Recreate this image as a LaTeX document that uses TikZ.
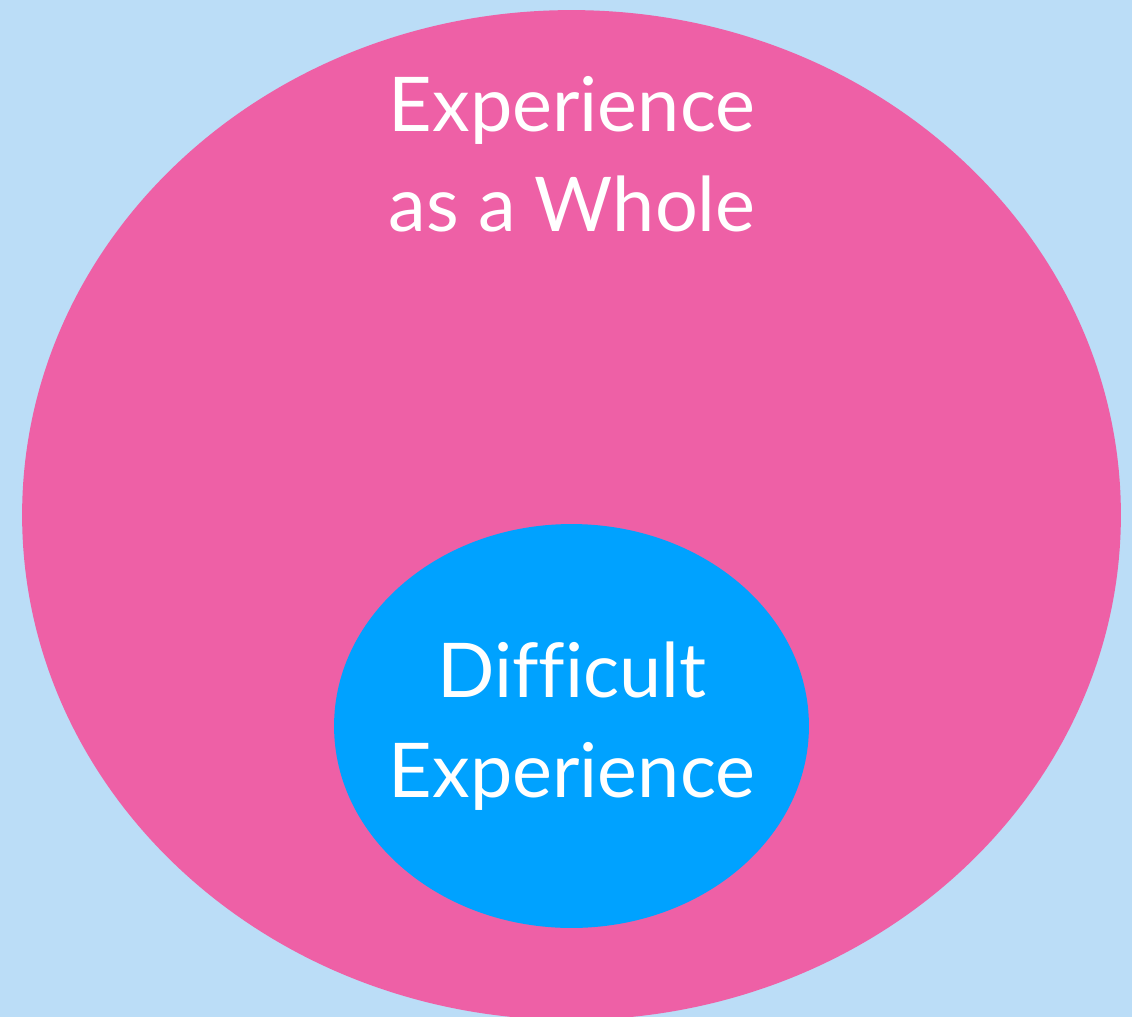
\documentclass[tikz,border=0pt]{standalone}
\usepackage{fontspec}
\setmainfont[Ligatures=CommonOff]{Lato}
\usetikzlibrary{shapes.geometric,positioning}
\definecolor{skyback}{HTML}{BBDDF7}
\definecolor{wholepink}{HTML}{EE60A6}
\definecolor{hardblue}{HTML}{00A2FF}
\tikzset{
  blob/.style={ellipse, inner sep=0pt},
  caption/.style={text=white, align=center, font=\fontsize{43}{57}\selectfont}
}
\begin{document}
\begin{tikzpicture}[x=0.02cm, y=-0.02cm]
    \fill [skyback] (0,0) rectangle (1132,1017);
    \useasboundingbox (0,0) rectangle (1132,1017);
    \clip (0,0) rectangle (1132,1017);
    % outer and inner sets
    \node (whole) [blob, fill=wholepink, minimum width=21.98cm, minimum height=20.2cm] at (571.5,515) {};
    \node (difficult) [blob, fill=hardblue, minimum width=9.5cm, minimum height=8.08cm] at (571.5,726) {};
    % labels
    \node (wholetext) [caption] at (572,154) {Experience\\as a Whole};
    \node (difftext) [caption] at (572,726) {Difficult\\Experience};
\end{tikzpicture}
\end{document}
